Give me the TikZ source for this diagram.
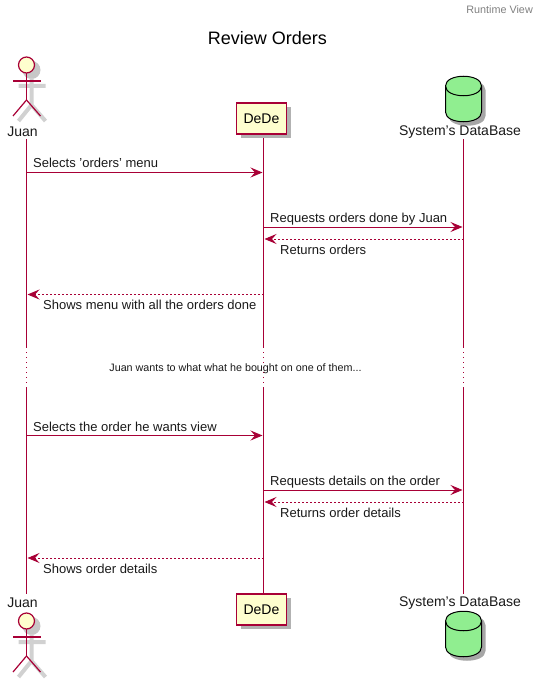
\documentclass[tikz,border=0pt]{standalone}
\usepackage{fontspec}
\setmainfont{Liberation Sans}
\usetikzlibrary{arrows.meta}

\definecolor{umlline}{HTML}{A80036}
\definecolor{umlfill}{HTML}{FEFECE}
\definecolor{umlgreen}{HTML}{90EE90}

\tikzset{
    call/.style = {draw = umlline, line width = 0.9pt, -{Stealth[length = 12pt, width = 10pt, inset = 4.5pt]}},
    reply/.style = {call, dash pattern = on 2pt off 2pt},
    life/.style = {draw = umlline, line width = 0.9pt},
    lifedots/.style = {life, dash pattern = on 1pt off 4pt},
    msglabel/.style = {font = \fontsize{13}{15}\selectfont, anchor = west, inner sep = 0pt, text = black!90},
    namelabel/.style = {font = \fontsize{14}{16}\selectfont, inner sep = 0pt, text = black!90},
    dedebox/.style = {draw = umlline, fill = umlfill, line width = 1.2pt, minimum width = 50pt, minimum height = 31pt,
        inner sep = 0pt, font = \fontsize{14}{16}\selectfont},
    actorline/.style = {draw = umlline, line width = 1.2pt},
    softshadow/.style = {draw = black!18, line width = 4pt},
    actor/.pic = {
        % shadow first
        \fill [black!22] (5,5) circle[radius = 9pt];
        \draw [softshadow] (5,13) -- (5,40) (-8,21) -- (19,21) (5,40) -- (-8,56) (5,40) -- (19,56);
        \draw [actorline, fill = umlfill] (0,0) circle[radius = 8pt];
        \draw [actorline] (0,8) -- (0,35);
        \draw [actorline] (-13.5,16) -- (14,16);
        \draw [actorline] (0,35) -- (-13.5,51);
        \draw [actorline] (0,35) -- (14,51);
    },
    database/.pic = {
        % shadow first
        \fill [black!35] (-15,14) .. controls (-15,1) and (22,1) .. (22,14) -- (22,40)
            .. controls (22,53) and (-15,53) .. (-15,40) -- cycle;
        \draw [black, line width = 1pt, fill = umlgreen] (-18,10) .. controls (-18,-3) and (18,-3) .. (18,10) -- (18,36)
            .. controls (18,49) and (-18,49) .. (-18,36) -- cycle;
        \draw [black, line width = 1pt] (-18,10) .. controls (-18,23) and (18,23) .. (18,10);
    }
}

\begin{document}
\begin{tikzpicture}[x = 1pt, y = -1pt]
            \useasboundingbox (0,0) rectangle (543,682);

            \node [font = \fontsize{10.8}{12}\selectfont, text = black!50, anchor = east, inner sep = 0pt] (header) at (533,10) {Runtime View};
            \node [font = \fontsize{18}{20}\selectfont, inner sep = 0pt] (title) at (267.5,38) {Review Orders};

            % ends of the lifelines
            \coordinate (juantop) at (26.5,139);
            \coordinate (juancuta) at (26.5,347);
            \coordinate (juancutb) at (26.5,388);
            \coordinate (juanend) at (26.5,594);
            \coordinate (dedetop) at (263.5,134);
            \coordinate (dedecuta) at (263.5,347);
            \coordinate (dedecutb) at (263.5,388);
            \coordinate (dedeend) at (263.5,594);
            \coordinate (dbtop) at (463.5,139);
            \coordinate (dbcuta) at (463.5,347);
            \coordinate (dbcutb) at (463.5,388);
            \coordinate (dbend) at (463.5,594);

            \draw [life] (juantop) -- (juancuta);
            \draw [lifedots] (juancuta) -- (juancutb);
            \draw [life] (juancutb) -- (juanend);
            \draw [life] (dedetop) -- (dedecuta);
            \draw [lifedots] (dedecuta) -- (dedecutb);
            \draw [life] (dedecutb) -- (dedeend);
            \draw [life] (dbtop) -- (dbcuta);
            \draw [lifedots] (dbcuta) -- (dbcutb);
            \draw [life] (dbcutb) -- (dbend);

            % participants, top and bottom
            \pic at (26.5,65) {actor};
            \node [namelabel] (juanname) at (22.5,132) {Juan};
            \pic at (26.5,621) {actor};
            \node [namelabel] (juannameb) at (22.5,603) {Juan};

            \fill [black!30] (240.5,107) rectangle (291,138);
            \node [dedebox] (dedehead) at (261.5,118.5) {DeDe};
            \fill [black!30] (240.5,598) rectangle (291,629);
            \node [dedebox] (dedefoot) at (261.5,609.5) {DeDe};

            \pic at (463.5,76) {database};
            \node [namelabel] (dbname) at (460,132) {System's DataBase};
            \pic at (463.5,611) {database};
            \node [namelabel] (dbnameb) at (460,603) {System's DataBase};

            % messages
            \coordinate (ma) at (26.5,172.5);
            \coordinate (mb) at (262.5,172.5);
            \draw [call] (ma) -- (mb);
            \node [msglabel] (selmenu) at (33,163) {Selects 'orders' menu};

            \coordinate (mc) at (263.5,227);
            \coordinate (md) at (462.5,227);
            \draw [call] (mc) -- (md);
            \node [msglabel] (reqorders) at (270,219) {Requests orders done by Juan};

            \coordinate (me) at (463.5,239);
            \coordinate (mf) at (264.5,239);
            \draw [reply] (me) -- (mf);
            \node [msglabel] (retorders) at (280,250) {Returns orders};

            \coordinate (mg) at (263.5,294.5);
            \coordinate (mh) at (27.5,294.5);
            \draw [reply] (mg) -- (mh);
            \node [msglabel] (showmenu) at (43,305) {Shows menu with all the orders done};

            \node [font = \fontsize{10.75}{13}\selectfont, inner sep = 0pt, text = black!90] (cuttext) at (235.5,369) {Juan wants to what what he bought on one of them...};

            \coordinate (mi) at (26.5,435.5);
            \coordinate (mj) at (262.5,435.5);
            \draw [call] (mi) -- (mj);
            \node [msglabel] (selorder) at (33,427) {Selects the order he wants view};

            \coordinate (mk) at (263.5,490);
            \coordinate (ml) at (462.5,490);
            \draw [call] (mk) -- (ml);
            \node [msglabel] (reqdetails) at (270,482) {Requests details on the order};

            \coordinate (mm) at (463.5,502);
            \coordinate (mn) at (264.5,502);
            \draw [reply] (mm) -- (mn);
            \node [msglabel] (retdetails) at (280,513) {Returns order details};

            \coordinate (mo) at (263.5,558);
            \coordinate (mp) at (27.5,558);
            \draw [reply] (mo) -- (mp);
            \node [msglabel] (showdetails) at (43,569) {Shows order details};
        \end{tikzpicture}
\end{document}
